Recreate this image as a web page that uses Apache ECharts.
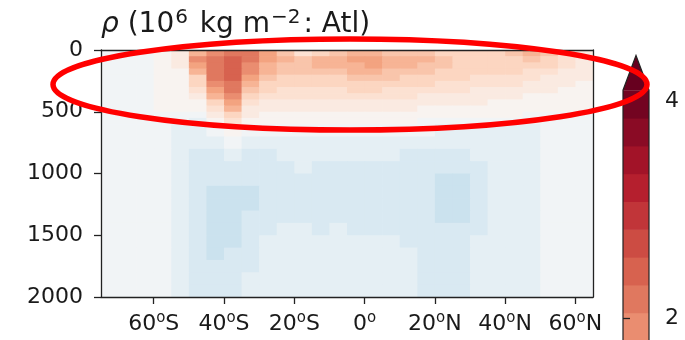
<!DOCTYPE html>
<html><head><meta charset="utf-8">
<script src="https://cdn.jsdelivr.net/npm/echarts@6/dist/echarts.min.js"></script>
<style>html,body{margin:0;padding:0;background:#fff}#c{width:685px;height:340px}</style>
</head><body><div id="c"></div>
<script>
// ---- data ----
const latEdges = [-75,-70,-65,-60,-55,-50,-45,-40,-35,-30,-25,-20,-15,-10,-5,0,5,10,15,20,25,30,35,40,45,50,55,60,65];
const depthEdges = [0,50,100,150,200,250,300,350,400,450,500,550,600,700,800,900,1000,1100,1200,1300,1400,1500,1600,1700,1800,1900,2000];
// rows = depth layers (top to bottom), columns = latitude cells (south to north)
const rho = [
[-0.05,-0.05,-0.05,0.1,0.5,1.5,2.0,2.1,2.1,1.7,1.2,0.7,0.8,1.1,1.3,1.3,1.2,1.1,1.2,1.0,0.9,0.9,1.0,1.2,1.4,1.2,0.7,0.5],
[-0.05,-0.05,-0.05,0.0,0.4,1.8,2.2,2.35,2.2,1.7,1.35,1.25,1.35,1.5,1.55,1.6,1.5,1.4,1.3,1.15,1.0,1.0,0.95,1.0,1.1,0.9,0.7,0.5],
[-0.05,-0.05,-0.05,0.0,0.3,1.6,2.2,2.4,2.0,1.5,1.25,1.2,1.3,1.4,1.5,1.55,1.45,1.35,1.25,1.1,1.0,0.95,0.9,0.9,0.9,0.8,0.6,0.45],
[-0.05,-0.05,-0.05,0.0,0.2,1.3,2.2,2.4,1.8,1.3,1.1,1.05,1.1,1.2,1.3,1.35,1.25,1.2,1.1,1.0,0.9,0.85,0.8,0.8,0.75,0.65,0.5,0.4],
[-0.05,-0.05,-0.05,0.0,0.15,1.0,2.1,2.35,1.55,1.1,0.95,0.9,0.95,1.0,1.1,1.1,1.05,1.0,0.95,0.85,0.8,0.75,0.7,0.65,0.6,0.5,0.4,0.3],
[-0.05,-0.05,-0.05,0.0,0.1,0.8,1.9,2.2,1.3,0.95,0.8,0.8,0.85,0.9,0.95,0.95,0.9,0.85,0.8,0.7,0.7,0.65,0.6,0.55,0.5,0.4,0.3,0.25],
[-0.05,-0.05,-0.05,0.0,0.0,0.55,1.6,2.1,1.1,0.8,0.7,0.7,0.7,0.75,0.8,0.8,0.75,0.7,0.65,0.6,0.55,0.5,0.45,0.4,0.35,0.3,0.2,0.15],
[-0.05,-0.05,-0.05,0.0,0.0,0.35,1.3,1.9,0.9,0.65,0.55,0.55,0.6,0.6,0.65,0.65,0.6,0.55,0.5,0.45,0.45,0.4,0.35,0.3,0.25,0.2,0.15,0.1],
[-0.05,-0.05,-0.05,0.0,0.0,0.2,1.0,1.6,0.7,0.5,0.45,0.45,0.45,0.5,0.5,0.5,0.45,0.45,0.4,0.35,0.3,0.3,0.25,0.2,0.15,0.1,0.05,0.0],
[-0.05,-0.05,-0.05,0.0,0.0,0.05,0.7,1.3,0.5,0.35,0.3,0.3,0.35,0.35,0.4,0.4,0.35,0.3,0.25,0.2,0.15,0.15,0.1,0.1,0.05,0.0,0.0,0.0],
[-0.05,-0.05,-0.05,-0.1,-0.2,-0.15,0.4,1.0,0.3,0.2,0.15,0.15,0.2,0.2,0.25,0.25,0.2,0.15,0.1,0.05,0.05,0.0,0.0,0.0,-0.05,-0.1,-0.05,-0.05],
[-0.05,-0.05,-0.05,-0.1,-0.2,-0.3,0.2,0.6,0.1,0.0,0.0,0.0,0.05,0.05,0.1,0.1,0.05,0.0,-0.05,-0.1,-0.1,-0.1,-0.1,-0.1,-0.15,-0.15,-0.1,-0.05],
[-0.05,-0.05,-0.05,-0.2,-0.3,-0.3,-0.1,0.25,-0.2,-0.25,-0.25,-0.2,-0.2,-0.2,-0.15,-0.15,-0.2,-0.25,-0.25,-0.3,-0.3,-0.3,-0.3,-0.3,-0.3,-0.2,-0.15,-0.05],
[-0.05,-0.05,-0.05,-0.2,-0.3,-0.3,-0.3,-0.1,-0.3,-0.3,-0.3,-0.3,-0.3,-0.3,-0.3,-0.3,-0.3,-0.3,-0.3,-0.3,-0.3,-0.3,-0.3,-0.3,-0.3,-0.2,-0.15,-0.05],
[-0.05,-0.05,-0.05,-0.2,-0.3,-0.6,-0.6,-0.35,-0.6,-0.6,-0.3,-0.3,-0.3,-0.3,-0.3,-0.3,-0.3,-0.6,-0.6,-0.6,-0.6,-0.3,-0.3,-0.3,-0.3,-0.2,-0.15,-0.05],
[-0.05,-0.05,-0.05,-0.2,-0.3,-0.6,-0.6,-0.6,-0.6,-0.6,-0.6,-0.35,-0.6,-0.6,-0.6,-0.6,-0.6,-0.6,-0.6,-0.6,-0.6,-0.6,-0.3,-0.3,-0.3,-0.2,-0.15,-0.05],
[-0.05,-0.05,-0.05,-0.2,-0.3,-0.6,-0.6,-0.6,-0.6,-0.6,-0.6,-0.6,-0.6,-0.6,-0.6,-0.7,-0.6,-0.6,-0.6,-0.85,-0.85,-0.6,-0.3,-0.3,-0.3,-0.2,-0.15,-0.05],
[-0.05,-0.05,-0.05,-0.2,-0.3,-0.6,-0.85,-0.85,-0.85,-0.6,-0.6,-0.6,-0.6,-0.6,-0.65,-0.7,-0.6,-0.6,-0.6,-0.85,-0.85,-0.6,-0.3,-0.3,-0.35,-0.2,-0.15,-0.05],
[-0.05,-0.05,-0.05,-0.2,-0.3,-0.6,-0.85,-0.85,-0.85,-0.6,-0.6,-0.6,-0.6,-0.6,-0.65,-0.7,-0.6,-0.6,-0.6,-0.85,-0.85,-0.6,-0.3,-0.3,-0.35,-0.2,-0.15,-0.05],
[-0.05,-0.05,-0.05,-0.2,-0.3,-0.6,-0.85,-0.85,-0.6,-0.6,-0.6,-0.6,-0.6,-0.6,-0.6,-0.7,-0.6,-0.6,-0.6,-0.85,-0.85,-0.6,-0.3,-0.3,-0.35,-0.2,-0.15,-0.05],
[-0.05,-0.05,-0.05,-0.2,-0.3,-0.6,-0.85,-0.85,-0.6,-0.6,-0.3,-0.35,-0.6,-0.3,-0.6,-0.6,-0.6,-0.6,-0.6,-0.65,-0.6,-0.6,-0.3,-0.3,-0.35,-0.2,-0.15,-0.05],
[-0.05,-0.05,-0.05,-0.2,-0.3,-0.6,-0.85,-0.85,-0.6,-0.3,-0.3,-0.3,-0.3,-0.3,-0.3,-0.3,-0.3,-0.6,-0.6,-0.6,-0.6,-0.3,-0.3,-0.3,-0.35,-0.2,-0.15,-0.05],
[-0.05,-0.05,-0.05,-0.2,-0.3,-0.6,-0.85,-0.6,-0.6,-0.3,-0.3,-0.3,-0.3,-0.3,-0.3,-0.3,-0.3,-0.3,-0.6,-0.6,-0.6,-0.3,-0.3,-0.3,-0.3,-0.2,-0.15,-0.05],
[-0.05,-0.05,-0.05,-0.2,-0.3,-0.6,-0.6,-0.6,-0.6,-0.3,-0.3,-0.3,-0.3,-0.3,-0.3,-0.3,-0.3,-0.3,-0.6,-0.6,-0.6,-0.3,-0.3,-0.3,-0.3,-0.2,-0.15,-0.05],
[-0.05,-0.05,-0.05,-0.2,-0.3,-0.6,-0.6,-0.6,-0.3,-0.3,-0.3,-0.3,-0.3,-0.3,-0.3,-0.3,-0.3,-0.3,-0.6,-0.6,-0.6,-0.3,-0.3,-0.3,-0.3,-0.2,-0.15,-0.05],
[-0.05,-0.05,-0.05,-0.2,-0.3,-0.6,-0.6,-0.6,-0.3,-0.3,-0.3,-0.3,-0.3,-0.3,-0.3,-0.3,-0.3,-0.3,-0.6,-0.6,-0.6,-0.3,-0.3,-0.3,-0.3,-0.2,-0.15,-0.05]
];
const xTicks = [-60,-40,-20,0,20,40,60];
const yTicks = [0,500,1000,1500,2000];
const cbLevels = [-4.1,-3.84375,-3.5875,-3.33125,-3.075,-2.81875,-2.5625,-2.30625,-2.05,-1.79375,-1.5375,-1.28125,-1.025,-0.76875,-0.5125,-0.25625,0,0.25625,0.5125,0.76875,1.025,1.28125,1.5375,1.79375,2.05,2.30625,2.5625,2.81875,3.075,3.33125,3.5875,3.84375,4.1];
const cbTicks = [-4,-2,0,2,4];
const cbExtendTip = 4.42;
const titleText = '{i|ρ} (10{s|6} kg m{s|−2}: Atl)';

// ---- colour map (RdBu_r) ----
const rdbuR = [[5,48,97],[33,102,172],[67,147,195],[146,197,222],[209,229,240],[247,247,247],[253,219,199],[244,165,130],[214,96,77],[178,24,43],[103,0,31]];
function cmap(t){
  t = Math.max(0, Math.min(1, t));
  const p = t * 10, i = Math.min(9, Math.floor(p)), f = p - i;
  const a = rdbuR[i], b = rdbuR[i+1];
  const c = a.map((v,k)=>Math.round(v + (b[k]-v)*f));
  return 'rgb(' + c.join(',') + ')';
}
const lo = cbLevels[0], hi = cbLevels[cbLevels.length-1];
function bandColor(v){
  if (v >= hi) return cmap(1);
  let k = 0;
  while (k < cbLevels.length-2 && v >= cbLevels[k+1]) k++;
  const mid = (cbLevels[k] + cbLevels[k+1]) / 2;
  return cmap((mid - lo) / (hi - lo));
}

// ---- build series data ----
const cells = [];
for (let i = 0; i < rho.length; i++)
  for (let j = 0; j < rho[i].length; j++)
    cells.push([latEdges[j], latEdges[j+1], depthEdges[i], depthEdges[i+1], rho[i][j]]);
const cbBands = [];
for (let k = 0; k < cbLevels.length-1; k++) cbBands.push([cbLevels[k], cbLevels[k+1]]);

const FONT = 'DejaVu Sans';
const TXT = '#1a1a1a';
function latLabel(v){
  if (v === 0) return '{n|0}{o|o}';
  return '{n|' + Math.abs(v) + '}{o|o}{n|' + (v < 0 ? 'S' : 'N') + '}';
}

const chart = echarts.init(document.getElementById('c'), null, {renderer:'canvas'});
chart.setOption({
  animation: false,
  backgroundColor: '#fff',
  title: {
    text: titleText, left: 101, top: 8, padding: 0,
    textStyle: {fontFamily: FONT, fontSize: 28, fontWeight: 'normal', color: TXT, lineHeight: 33,
      rich: {
        i: {fontFamily: FONT, fontStyle: 'italic', fontSize: 28, color: TXT, lineHeight: 33},
        s: {fontFamily: FONT, fontSize: 20, color: TXT, lineHeight: 22, verticalAlign: 'top', padding: [0, 3, 0, 1]}
      }}
  },
  grid: [
    {left: 101, top: 50, width: 492, height: 247, outerBoundsMode: 'none', containLabel: false},
    {left: 623, top: 90.2, width: 26, height: 889.7, outerBoundsMode: 'none', containLabel: false}
  ],
  xAxis: [
    {gridIndex: 0, type: 'value', min: -75, max: 65, position: 'bottom', z: 10,
      axisLine: {show: true, onZero: false, lineStyle: {color: '#222', width: 1.3}},
      axisTick: {show: true, customValues: xTicks, length: 7, lineStyle: {color: '#222', width: 1.3}},
      axisLabel: {customValues: xTicks, formatter: latLabel, margin: 14,
        rich: {
          n: {fontFamily: FONT, fontSize: 22, color: TXT, lineHeight: 26},
          o: {fontFamily: FONT, fontSize: 15, color: TXT, lineHeight: 15, verticalAlign: 'top'}
        }},
      splitLine: {show: false}},
    {gridIndex: 0, type: 'value', min: -75, max: 65, position: 'top', z: 10,
      axisLine: {show: true, onZero: false, lineStyle: {color: '#222', width: 1.3}},
      axisTick: {show: false}, axisLabel: {show: false}, splitLine: {show: false}},
    {gridIndex: 1, type: 'value', min: 0, max: 1, show: false}
  ],
  yAxis: [
    {gridIndex: 0, type: 'value', min: 0, max: 2000, interval: 500, inverse: true, position: 'left', z: 10,
      axisLine: {show: true, onZero: false, lineStyle: {color: '#222', width: 1.3}},
      axisTick: {show: true, length: 7, lineStyle: {color: '#222', width: 1.3}},
      axisLabel: {formatter: function(v){ return String(v); }, fontFamily: FONT, fontSize: 22, color: TXT, margin: 18},
      splitLine: {show: false}},
    {gridIndex: 0, type: 'value', min: 0, max: 2000, inverse: true, position: 'right', z: 10,
      axisLine: {show: true, onZero: false, lineStyle: {color: '#222', width: 1.3}},
      axisTick: {show: false}, axisLabel: {show: false}, splitLine: {show: false}},
    {gridIndex: 1, type: 'value', min: lo, max: hi, position: 'right', z: 10,
      axisLine: {show: false},
      axisTick: {show: true, customValues: cbTicks, length: 7, lineStyle: {color: '#222', width: 1.3}},
      axisLabel: {customValues: cbTicks, formatter: function(v){ return String(v); }, fontFamily: FONT, fontSize: 22, color: TXT, margin: 16},
      splitLine: {show: false}}
  ],
  series: [
    {type: 'custom', xAxisIndex: 0, yAxisIndex: 0, data: cells, clip: true,
      encode: {x: [0,1], y: [2,3]},
      renderItem: function(params, api){
        const p0 = api.coord([api.value(0), api.value(2)]);
        const p1 = api.coord([api.value(1), api.value(3)]);
        return {type: 'rect', shape: {x: Math.min(p0[0],p1[0]), y: Math.min(p0[1],p1[1]),
          width: Math.abs(p1[0]-p0[0]) + 0.7, height: Math.abs(p1[1]-p0[1]) + 0.7},
          style: {fill: bandColor(api.value(4))}};
      }},
    {type: 'custom', xAxisIndex: 2, yAxisIndex: 2, data: cbBands, clip: false,
      renderItem: function(params, api){
        const a = api.coord([0, api.value(0)]);
        const b = api.coord([1, api.value(1)]);
        const mid = (api.value(0) + api.value(1)) / 2;
        return {type: 'rect', shape: {x: a[0], y: b[1], width: b[0]-a[0], height: Math.abs(a[1]-b[1]) + 0.6},
          style: {fill: cmap((mid - lo)/(hi - lo))}};
      }},
    {type: 'custom', xAxisIndex: 2, yAxisIndex: 2, data: [[hi, cbExtendTip]], clip: false, z: 3,
      renderItem: function(params, api){
        const l = api.coord([0, api.value(0)]);
        const r = api.coord([1, api.value(0)]);
        const t = api.coord([0.5, api.value(1)]);
        const bl = api.coord([0, lo]);
        const br = api.coord([1, lo]);
        return {type: 'group', children: [
          {type: 'polygon', shape: {points: [l, t, r]}, style: {fill: cmap(1)}},
          {type: 'polyline', shape: {points: [bl, l, t, r, br]}, style: {fill: null, stroke: '#222', lineWidth: 1.2}}
        ]};
      }}
  ],
  graphic: [
    {type: 'ellipse', z: 100, shape: {cx: 350, cy: 84.5, rx: 297, ry: 45.5},
      style: {fill: null, stroke: '#ff0000', lineWidth: 5.5}}
  ]
});
</script></body></html>
